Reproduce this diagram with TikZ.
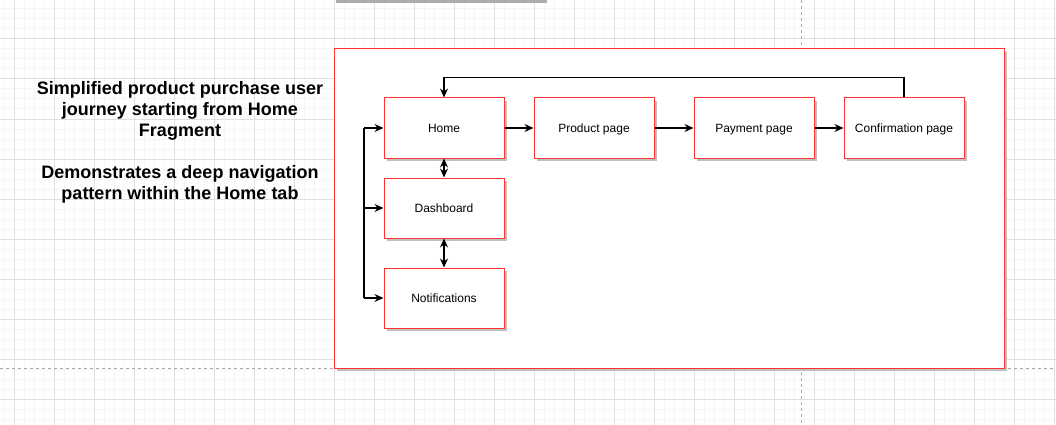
\documentclass[tikz,border=0pt]{standalone}
\usepackage{fontspec}
\setmainfont{Liberation Sans}
\usetikzlibrary{arrows.meta,shadows}
\definecolor{boxred}{HTML}{FF3333}
\definecolor{gridmajor}{HTML}{E0E0E0}
\definecolor{gridminor}{HTML}{F6F6F6}
\definecolor{shadowgray}{HTML}{C0C0C0}
\definecolor{pageline}{HTML}{A8A8A8}
\begin{document}
\begin{tikzpicture}[x=1pt,y=-1pt,
  box/.style={draw=boxred, fill=white, line width=1pt, minimum width=120pt, minimum height=60pt,
    inner sep=0pt, text depth=0pt, font=\fontsize{12}{14}\selectfont,
    drop shadow={shadow xshift=3pt, shadow yshift=-3pt, fill=shadowgray, opacity=1}},
  frame/.style={draw=boxred, fill=white, line width=1pt, minimum width=670pt, minimum height=319pt,
    inner sep=0pt, drop shadow={shadow xshift=3pt, shadow yshift=-3pt, fill=shadowgray, opacity=1}},
  arr/.style={draw=black, line width=1.1pt, -{Stealth[length=9pt,width=8pt,inset=3pt]}},
  darr/.style={draw=black, line width=1.1pt, {Stealth[length=9pt,width=8pt,inset=3pt]}-{Stealth[length=9pt,width=8pt,inset=3pt]}},
  plain/.style={draw=black, line width=1.1pt},
  minorline/.style={draw=gridminor, line width=1pt},
  majorline/.style={draw=gridmajor, line width=1pt},
  pagebreak/.style={draw=pageline, line width=0.8pt, dash pattern=on 3pt off 3pt},
  title/.style={align=center, font=\fontsize{18}{21}\selectfont\bfseries}
]
\useasboundingbox (0,0) rectangle (1056,425);
\fill[white] (0,0) rectangle (1056,425);
% grid
\foreach \x in {4,14,...,1054} \draw[minorline] (\x,0) -- (\x,425);
\foreach \y in {9,19,...,419} \draw[minorline] (0,\y) -- (1056,\y);
\foreach \x in {14,54,...,1054} \draw[majorline] (\x,0) -- (\x,425);
\foreach \y in {39,79,...,419} \draw[majorline] (0,\y) -- (1056,\y);
% page breaks
\draw[pagebreak] (801,0) -- (801,425);
\draw[pagebreak] (0,368) -- (1056,368);
% top bar
\fill[shadowgray!90!black] (336,0) rectangle (547,3);
% container
\node[frame] (frame) at (669,208.5) {};
% title
\node[title] (title) at (180,142.5) {Simplified product purchase user\\journey starting from Home\\Fragment\\[21pt]Demonstrates a deep navigation\\pattern within the Home tab};
% boxes
\node[box] (home) at (444,128) {Home};
\node[box] (dash) at (444,208) {Dashboard};
\node[box] (notif) at (444,298) {Notifications};
\node[box] (prod) at (594,128) {Product page};
\node[box] (pay) at (754,128) {Payment page};
\node[box] (conf) at (904,128) {Confirmation page};
% connectors
\draw[arr] (home.east) -- (prod.west);
\draw[arr] (prod.east) -- (pay.west);
\draw[arr] (pay.east) -- (conf.west);
\draw[arr] (conf.north) -- ++(0,-20) -| (home.north);
\draw[darr] (home.south) -- (dash.north);
\draw[darr] (dash.south) -- (notif.north);
\coordinate (bt) at (364,128);
\coordinate (bm) at (364,208);
\coordinate (bb) at (364,298);
\draw[plain] (bt) -- (bb);
\draw[arr] (bt) -- (home.west);
\draw[arr] (bm) -- (dash.west);
\draw[arr] (bb) -- (notif.west);
\end{tikzpicture}
\end{document}
